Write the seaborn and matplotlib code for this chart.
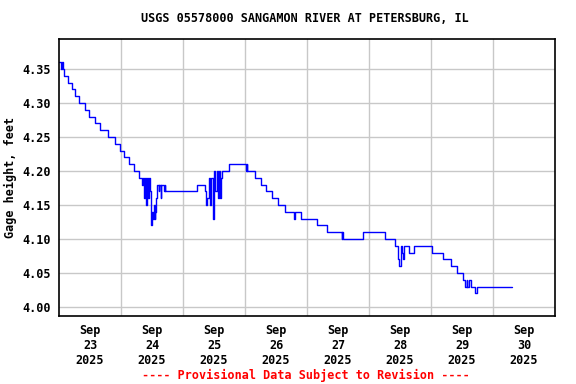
import matplotlib
matplotlib.use('Agg')

import matplotlib.pyplot as plt
import seaborn as sns
import pandas as pd

# gage readings: hours after 2025-09-23 00:00 and gage height (ft), step changes only
hours = [0.0, 0.8, 1.2, 1.5, 2.0, 3.6, 4.9, 6.2, 7.7, 10.1, 11.6, 13.9, 15.9, 19.1,
         21.7, 23.5, 25.0, 27.1, 29.1, 31.1,
         32.0, 32.3, 32.6, 33.0, 33.3, 33.7, 34.0, 34.4, 34.8, 35.2, 35.5, 35.8,
         36.1, 36.4, 36.7, 37.0, 37.3, 37.6, 37.9, 38.6, 38.9, 39.3, 39.6, 40.5,
         40.9, 41.2,
         53.3, 56.5, 56.9, 57.4, 57.9, 58.5, 59.0, 59.5, 60.0, 60.5, 61.0, 61.4,
         61.8, 62.2, 62.6, 63.0, 65.9,
         72.4, 72.6, 72.9, 75.9, 78.1, 80.0, 82.6, 84.9, 87.5, 91.0, 91.3, 93.7,
         99.8, 103.9, 109.4, 109.7, 110.1, 117.6, 126.1, 130.1,
         131.4, 131.7, 132.3, 132.8, 133.3, 133.6, 135.6, 137.4,
         144.3, 148.8, 151.6, 154.2, 156.3, 157.3, 157.8, 158.1, 158.8, 159.4,
         161.0, 161.7, 175.2]
gage = [4.36, 4.35, 4.36, 4.35, 4.34, 4.33, 4.32, 4.31, 4.30, 4.29, 4.28, 4.27, 4.26, 4.25,
        4.24, 4.23, 4.22, 4.21, 4.20, 4.19,
        4.19, 4.18, 4.19, 4.16, 4.19, 4.15, 4.19, 4.16, 4.19, 4.17, 4.13, 4.12,
        4.14, 4.13, 4.15, 4.13, 4.14, 4.16, 4.18, 4.17, 4.18, 4.16, 4.18, 4.17,
        4.18, 4.17,
        4.18, 4.17, 4.15, 4.16, 4.19, 4.15, 4.19, 4.13, 4.20, 4.17, 4.20, 4.16,
        4.20, 4.16, 4.19, 4.20, 4.21,
        4.20, 4.21, 4.20, 4.19, 4.18, 4.17, 4.16, 4.15, 4.14, 4.13, 4.14, 4.13,
        4.12, 4.11, 4.10, 4.11, 4.10, 4.11, 4.10, 4.09,
        4.07, 4.06, 4.09, 4.08, 4.07, 4.09, 4.08, 4.09,
        4.08, 4.07, 4.06, 4.05, 4.04, 4.03, 4.04, 4.03, 4.04, 4.03,
        4.02, 4.03, 4.03]

day_labels = ['Sep\n23\n2025', 'Sep\n24\n2025', 'Sep\n25\n2025', 'Sep\n26\n2025',
              'Sep\n27\n2025', 'Sep\n28\n2025', 'Sep\n29\n2025', 'Sep\n30\n2025']
y_ticks = [4.00, 4.05, 4.10, 4.15, 4.20, 4.25, 4.30, 4.35]

start = pd.Timestamp('2025-09-23 00:00')
df = pd.DataFrame({'time': start + pd.to_timedelta(hours, unit='h'), 'gage': gage})

sns.set_style("whitegrid")
plt.rcParams['font.family'] = ['DejaVu Sans Mono']
plt.rcParams['font.weight'] = 'bold'
plt.rcParams['text.color'] = 'black'
plt.rcParams['axes.labelcolor'] = 'black'
plt.rcParams['xtick.color'] = 'black'
plt.rcParams['ytick.color'] = 'black'

fig = plt.figure(figsize=(5.76, 3.84), dpi=100)
ax = fig.add_axes([59 / 576, 1 - 316 / 384, 496 / 576, 277 / 384])

sns.lineplot(data=df, x='time', y='gage', ax=ax, color='#0000ff', linewidth=1.0,
             drawstyle='steps-post', estimator=None)

ax.set_xlim(start, start + pd.Timedelta(days=8))
ax.set_ylim(3.9868, 4.3941)

# labels at noon, grid lines at midnight
noons = [start + pd.Timedelta(hours=12 + 24 * i) for i in range(8)]
mids = [start + pd.Timedelta(days=i) for i in range(1, 8)]
ax.set_xticks(noons)
ax.set_xticklabels(day_labels, fontsize=8.5, fontweight='bold', linespacing=1.2)
ax.set_xticks(mids, minor=True)
ax.tick_params(axis='x', which='both', length=0, pad=6)
ax.grid(False, axis='x', which='major')
ax.grid(True, axis='x', which='minor', color='#c8c8c8', linewidth=1)

ax.set_yticks(y_ticks)
ax.set_yticklabels([f'{v:.2f}' for v in y_ticks], fontsize=8.5, fontweight='bold')
ax.tick_params(axis='y', length=0, pad=6)
ax.grid(True, axis='y', color='#c8c8c8', linewidth=1)

for s in ax.spines.values():
    s.set_color('black')
    s.set_linewidth(1.2)

ax.set_xlabel('')
ax.set_ylabel('Gage height, feet', fontsize=8.5, fontweight='bold', labelpad=4)

fig.text(305 / 576, 1 - 19 / 384, 'USGS 05578000 SANGAMON RIVER AT PETERSBURG, IL',
         ha='center', va='center', fontsize=8.5, fontweight='bold')
fig.text(306 / 576, 1 - 375 / 384, '---- Provisional Data Subject to Revision ----',
         ha='center', va='center', fontsize=8.5, fontweight='bold', color='#ff0000')

fig.savefig('out.png', dpi=100)
